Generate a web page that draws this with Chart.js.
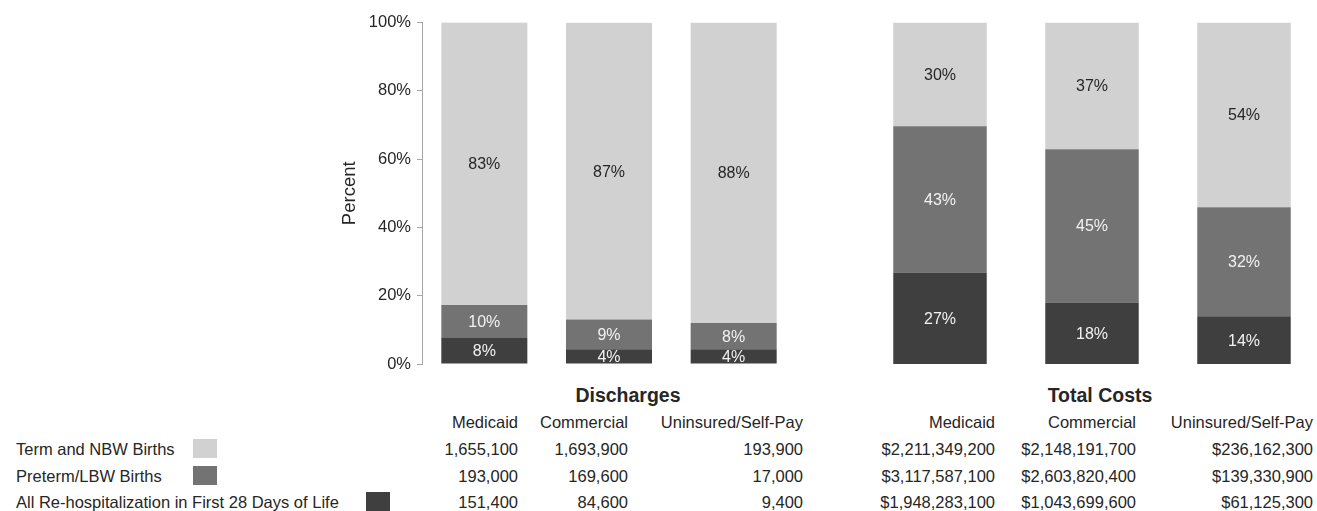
<!DOCTYPE html>
<html>
<head>
<meta charset="utf-8">
<script src="https://cdn.jsdelivr.net/npm/chart.js@4/dist/chart.umd.min.js"></script>
<style>
  html, body { margin:0; padding:0; background:#fff; overflow:hidden; width:1317px; height:511px; }
  body { position:relative; font-family:"Liberation Sans", Arial, sans-serif; color:#262626; }
  canvas { position:absolute; top:0; }
  .cell { position:absolute; width:240px; text-align:right; font-size:16.5px; line-height:20px; height:20px; white-space:nowrap; }
  .lbl { position:absolute; left:16px; font-size:16.5px; line-height:20px; height:20px; white-space:nowrap; }
  .title { position:absolute; width:240px; text-align:center; font-size:19.5px; font-weight:bold; line-height:24px; height:24px; }
  .sw { position:absolute; width:24px; height:19px; }
</style>
</head>
<body>
<canvas id="c1" width="470" height="380" style="left:330px"></canvas>
<canvas id="c2" width="456" height="380" style="left:864px"></canvas>
<div id="table"></div>
<script>
// ---- data ----
const payers = ["Medicaid", "Commercial", "Uninsured/Self-Pay"];
const seriesNames = ["All Re-hospitalization in First 28 Days of Life", "Preterm/LBW Births", "Term and NBW Births"];
const seriesColors = ["#3f3f3f", "#737373", "#d0d1d0"];
const labelColors = ["#f2f2f2", "#f2f2f2", "#262626"];

// percent of discharges (stacked)
const dischRehosp = [7.6, 4.3, 4.3];
const dischPreterm = [9.7, 8.7, 7.7];
const dischTerm = [82.8, 86.9, 88.0];

// percent of total costs (stacked)
const costRehosp = [26.8, 18.0, 14.0];
const costPreterm = [42.8, 44.9, 31.9];
const costTerm = [30.4, 37.1, 54.1];

const yTicks = [0, 20, 40, 60, 80, 100];

// table values
const tableRowNames = ["Term and NBW Births", "Preterm/LBW Births", "All Re-hospitalization in First 28 Days of Life"];
const dischTermCounts = ["1,655,100", "1,693,900", "193,900"];
const dischPretermCounts = ["193,000", "169,600", "17,000"];
const dischRehospCounts = ["151,400", "84,600", "9,400"];
const costTermVals = ["$2,211,349,200", "$2,148,191,700", "$236,162,300"];
const costPretermVals = ["$3,117,587,100", "$2,603,820,400", "$139,330,900"];
const costRehospVals = ["$1,948,283,100", "$1,043,699,600", "$61,125,300"];

const FONT = '"Liberation Sans", Arial, sans-serif';

const segLabels = {
  id: 'segLabels',
  afterDatasetsDraw(chart) {
    const ctx = chart.ctx;
    chart.data.datasets.forEach((ds, i) => {
      const meta = chart.getDatasetMeta(i);
      meta.data.forEach((bar, j) => {
        const p = bar.getProps(['x', 'y', 'base'], true);
        ctx.save();
        ctx.fillStyle = ds.labelColor;
        ctx.font = '16px ' + FONT;
        ctx.textAlign = 'center';
        ctx.textBaseline = 'middle';
        ctx.fillText(Math.round(ds.data[j]) + '%', p.x, (p.y + p.base) / 2 + 1);
        ctx.restore();
      });
    });
  }
};

function makeDatasets(a, b, c, barPct) {
  return [a, b, c].map((d, i) => ({
    label: seriesNames[i],
    data: d,
    backgroundColor: seriesColors[i],
    labelColor: labelColors[i],
    borderWidth: 0,
    barPercentage: barPct,
    categoryPercentage: 1
  }));
}

new Chart(document.getElementById('c1'), {
  type: 'bar',
  data: { labels: payers, datasets: makeDatasets(dischRehosp, dischPreterm, dischTerm, 0.69) },
  options: {
    responsive: false, animation: false,
    layout: { padding: { top: 22.5, bottom: 16, left: 0, right: 4 } },
    plugins: { legend: { display: false }, tooltip: { enabled: false } },
    scales: {
      x: { stacked: true, display: false },
      y: {
        stacked: true, min: 0, max: 100,
        afterFit(scale) { scale.width = 92; },
        afterBuildTicks(scale) { scale.ticks = yTicks.map(v => ({ value: v })); },
        ticks: { color: '#262626', font: { family: FONT, size: 16.5 }, padding: 6, callback: v => v + '%' },
        grid: { drawOnChartArea: false, drawTicks: true, tickLength: 5, color: '#a6a6a6' },
        border: { display: true, color: '#a6a6a6', width: 1 },
        title: { display: true, text: 'Percent', color: '#262626', font: { family: FONT, size: 18.5, lineHeight: 1 }, padding: { top: 10.5, bottom: 0 } }
      }
    }
  },
  plugins: [segLabels]
});

new Chart(document.getElementById('c2'), {
  type: 'bar',
  data: { labels: payers, datasets: makeDatasets(costRehosp, costPreterm, costTerm, 0.615) },
  options: {
    responsive: false, animation: false,
    layout: { padding: { top: 22.5, bottom: 16, left: 0, right: 0 } },
    plugins: { legend: { display: false }, tooltip: { enabled: false } },
    scales: {
      x: { stacked: true, display: false },
      y: { stacked: true, min: 0, max: 100, display: false }
    }
  },
  plugins: [segLabels]
});

// ---- table (text below the chart) ----
const tbl = document.getElementById('table');
function add(cls, text, styles) {
  const d = document.createElement('div');
  d.className = cls; d.textContent = text;
  Object.assign(d.style, styles);
  tbl.appendChild(d);
  return d;
}
const rowY = [449, 476, 502];
const headerY = 422;
const titleY = 395;
const dischRight = [518, 628, 803];
const costRight = [995, 1136, 1313];

add('title', 'Discharges', { left: (628 - 120) + 'px', top: (titleY - 12) + 'px' });
add('title', 'Total Costs', { left: (1100 - 120) + 'px', top: (titleY - 12) + 'px' });

payers.forEach((p, i) => {
  add('cell', p, { left: (dischRight[i] - 240) + 'px', top: (headerY - 10) + 'px' });
  add('cell', p, { left: (costRight[i] - 240) + 'px', top: (headerY - 10) + 'px' });
});

const dischRows = [dischTermCounts, dischPretermCounts, dischRehospCounts];
const costRows = [costTermVals, costPretermVals, costRehospVals];
const swatchX = [193, 193, 366];
const swatchColors = [seriesColors[2], seriesColors[1], seriesColors[0]];
tableRowNames.forEach((name, r) => {
  add('lbl', name, { top: (rowY[r] - 10) + 'px' });
  add('sw', '', { left: swatchX[r] + 'px', top: (rowY[r] - 10) + 'px', background: swatchColors[r] });
  dischRows[r].forEach((v, i) => add('cell', v, { left: (dischRight[i] - 240) + 'px', top: (rowY[r] - 10) + 'px' }));
  costRows[r].forEach((v, i) => add('cell', v, { left: (costRight[i] - 240) + 'px', top: (rowY[r] - 10) + 'px' }));
});
</script>
</body>
</html>
